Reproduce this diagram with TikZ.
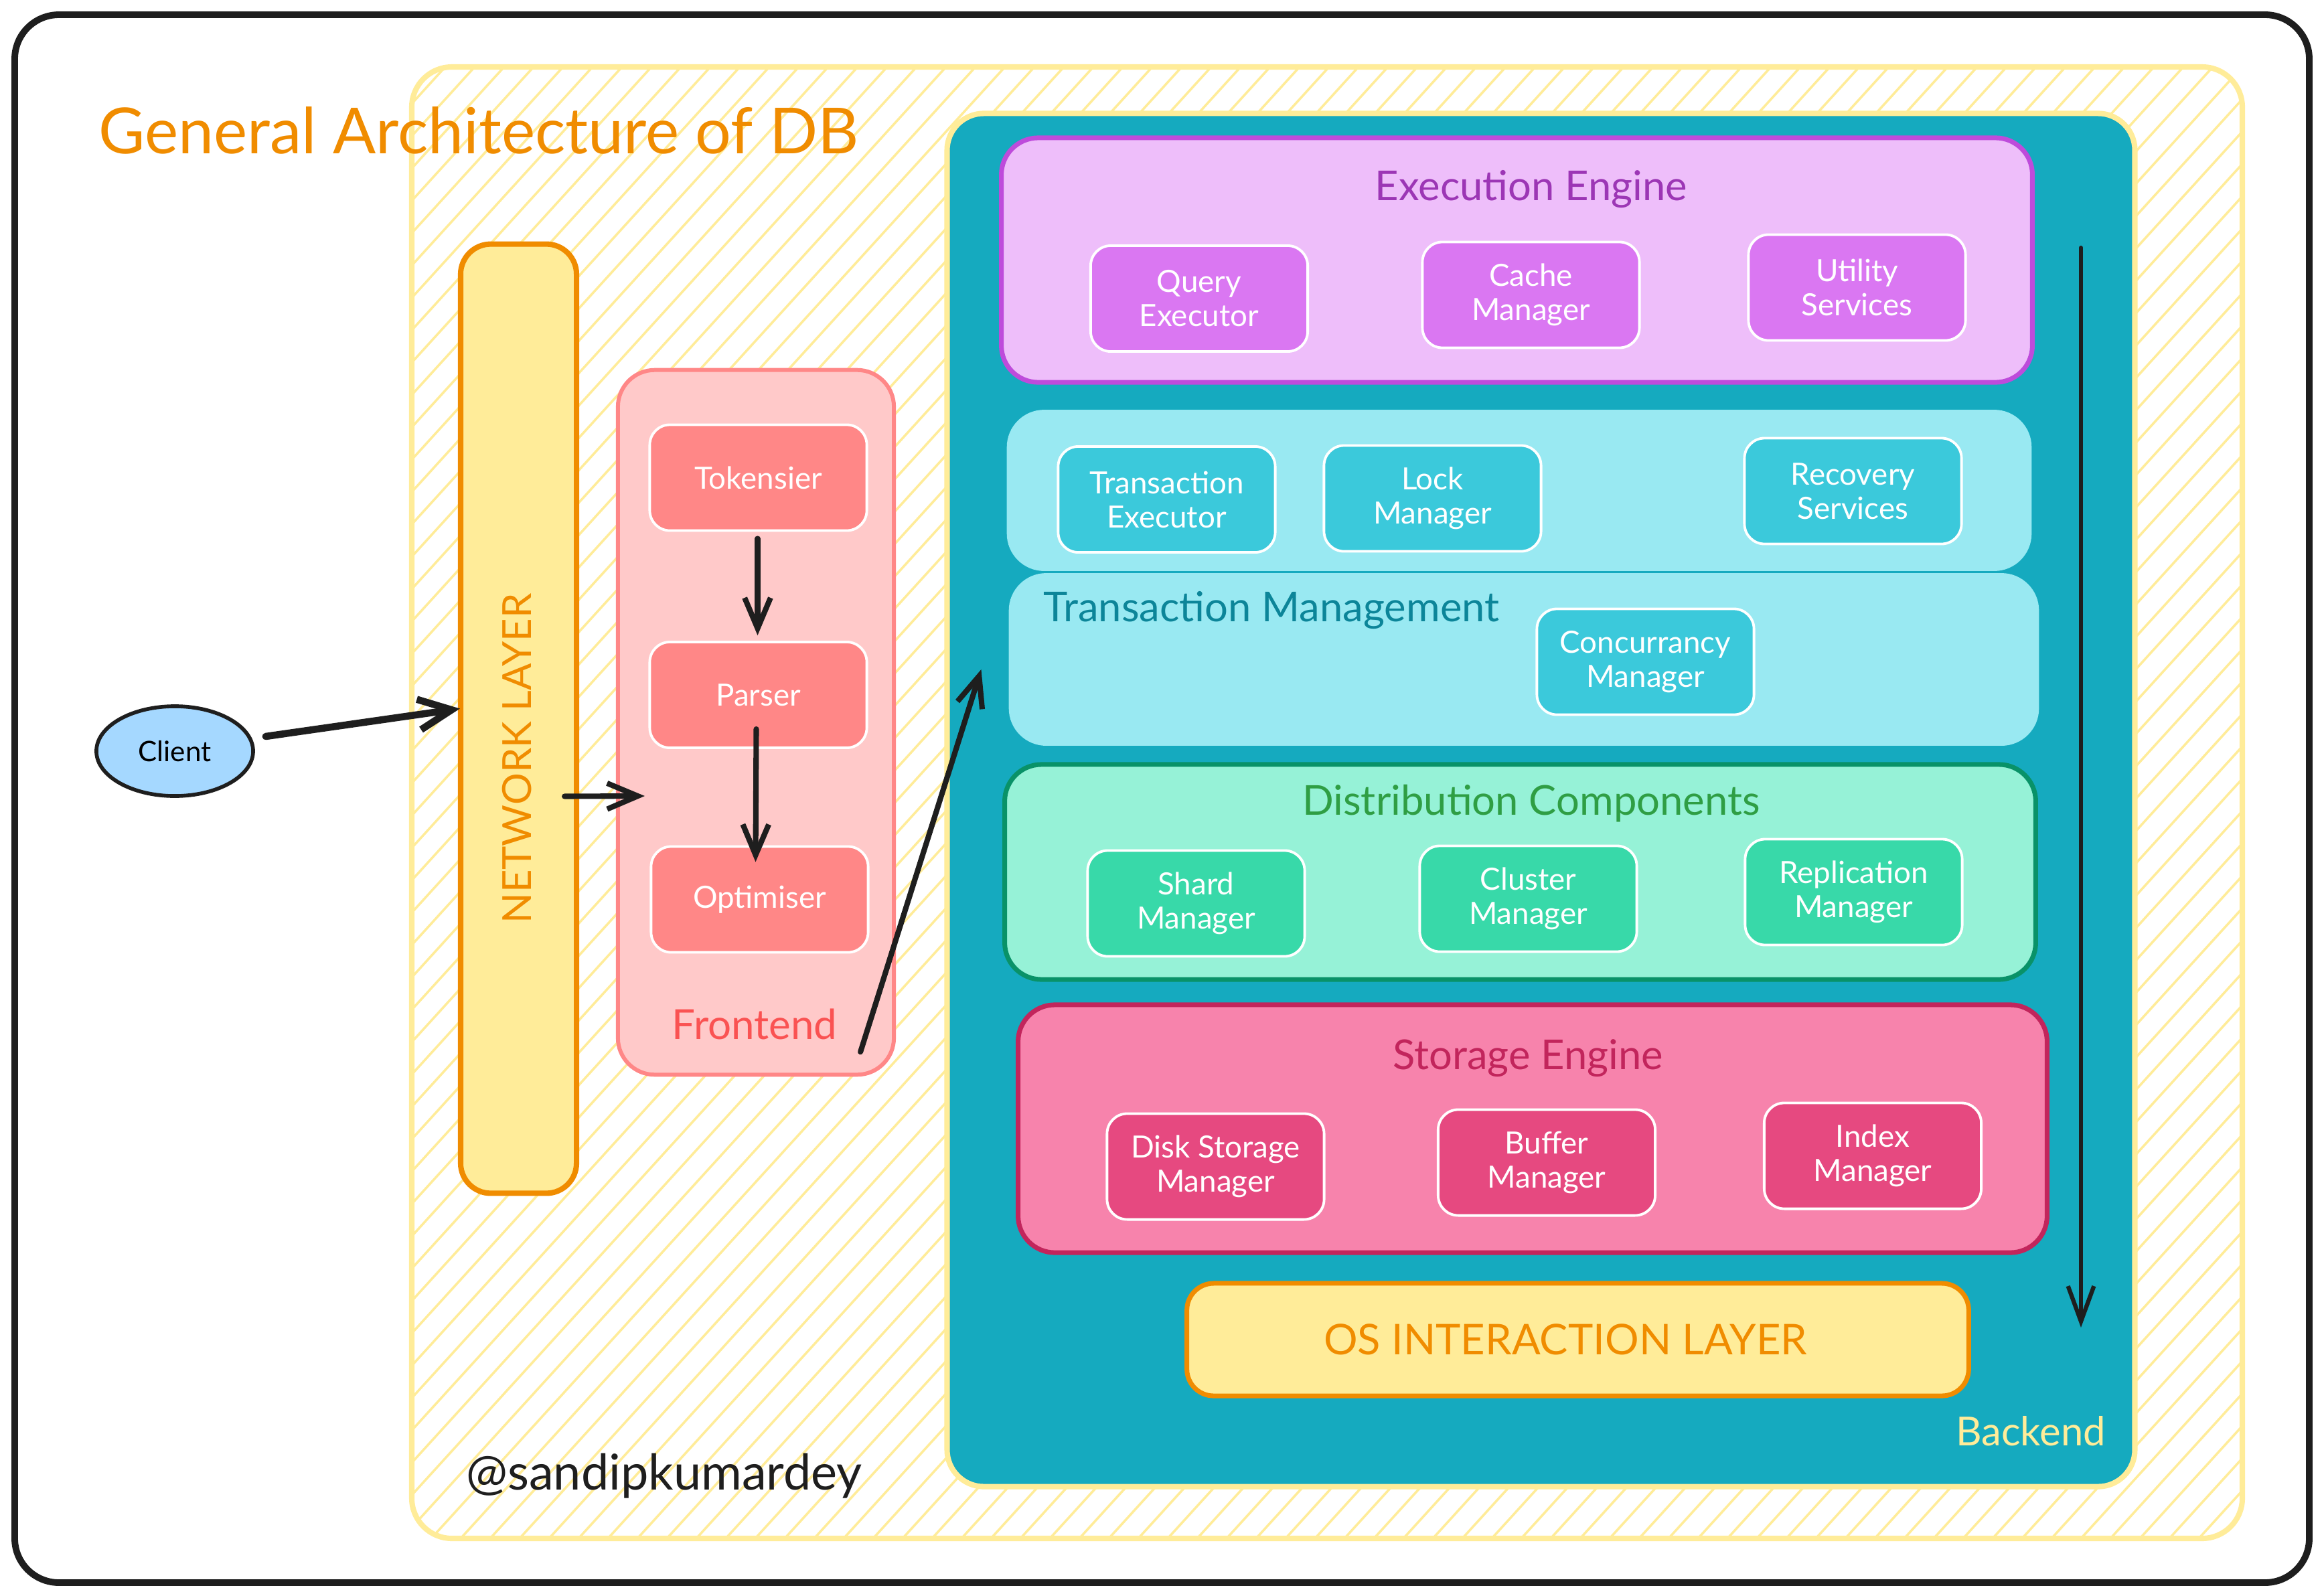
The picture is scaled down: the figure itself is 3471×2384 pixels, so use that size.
\documentclass[tikz,border=0pt]{standalone}
\usepackage{fontspec}
\setmainfont{Lato}
\usetikzlibrary{arrows.meta,calc,shapes.geometric}
\definecolor{ink}{HTML}{1E1E1E}
\definecolor{yel}{HTML}{FFEC99}
\definecolor{orng}{HTML}{F08C00}
\definecolor{bteal}{HTML}{15AABF}
\definecolor{lcyan}{HTML}{99E9F2}
\definecolor{mcyan}{HTML}{3BC9DB}
\definecolor{dcyan}{HTML}{0C8599}
\definecolor{lpurp}{HTML}{EEBEFA}
\definecolor{spurp}{HTML}{BE4BDB}
\definecolor{mpurp}{HTML}{DA77F2}
\definecolor{dpurp}{HTML}{9C36B5}
\definecolor{lgreen}{HTML}{96F2D7}
\definecolor{sgreen}{HTML}{099268}
\definecolor{mgreen}{HTML}{38D9A9}
\definecolor{tgreen}{HTML}{2F9E44}
\definecolor{lpink}{HTML}{F783AC}
\definecolor{spink}{HTML}{C2255C}
\definecolor{mpink}{HTML}{E64980}
\definecolor{lred}{HTML}{FFC9C9}
\definecolor{mred}{HTML}{FF8787}
\definecolor{tred}{HTML}{FA5252}
\definecolor{lblue}{HTML}{A5D8FF}
\begin{document}
\begin{tikzpicture}[x=0.01cm,y=-0.01cm,
  panel/.style={rounded corners=0.55cm, inner sep=0pt, line width=2pt},
  subbox/.style={draw=white, line width=1.1pt, rounded corners=0.3cm,
    minimum width=3.24cm, minimum height=1.58cm, inner sep=0pt,
    text=white, align=center, font=\fontsize{13}{14.5}\selectfont},
  sectitle/.style={font=\fontsize{17.5}{20}\selectfont, inner sep=0pt},
  hatch/.style={yel, line width=1pt},
  flow/.style={ink, line width=2.3pt, line cap=round,
    -{Straight Barb[length=13pt,width=11pt]}},
  bigflow/.style={ink, line width=3pt, line cap=round,
    -{Straight Barb[length=14pt,width=13pt]}}
]
\useasboundingbox (0,0) rectangle (3471,2384);
\fill[white] (0,0) rectangle (3471,2384);
\draw[ink, line width=2.8pt, rounded corners=0.66cm] (22,22) rectangle (3449,2364);

% hatched container
\begin{scope}
  \clip[rounded corners=0.6cm] (615,100) rectangle (3349,2298);
  \foreach \i in {0,...,112} {
    \draw[hatch] ({-1400+\i*44},2320) -- ({-1400+\i*44+2030},90);
  }
\end{scope}
\draw[yel, line width=2.3pt, rounded corners=0.6cm] (615,100) rectangle (3349,2298);

% title
\node[orng, font=\fontsize{27}{31}\selectfont, inner sep=0pt] (title) at (715,195) {General Architecture of DB};

% network layer
\node[panel, draw=orng, fill=yel, line width=2.3pt, rounded corners=0.45cm,
  minimum width=1.73cm, minimum height=14.17cm] (network) at (774.5,1073.5) {};
\node[orng, rotate=90, font=\fontsize{17}{20}\selectfont, inner sep=0pt] (nettext) at (772,1133) {NETWORK LAYER};

% client
\node[ellipse, draw=ink, fill=lblue, line width=1.6pt, minimum width=2.34cm,
  minimum height=1.34cm, inner sep=0pt, font=\fontsize{12}{14}\selectfont] (client) at (261,1122) {Client};

% frontend
\node[panel, draw=mred, fill=lred, line width=1.7pt, rounded corners=0.55cm,
  minimum width=4.12cm, minimum height=10.52cm] (frontend) at (1129,1079) {};
\node[tred, font=\fontsize{17.6}{20}\selectfont, inner sep=0pt] (frontlabel) at (1127,1530) {Frontend};
\node[subbox, fill=mred] (tok) at (1132.5,713.5) {Tokensier};
\node[subbox, fill=mred] (parser) at (1132.5,1038) {Parser};
\node[subbox, fill=mred] (opt) at (1134.5,1343.5) {Optimiser};

% backend
\node[panel, draw=yel, fill=bteal, line width=2.3pt, rounded corners=0.55cm,
  minimum width=17.73cm, minimum height=20.5cm] (backend) at (2301.5,1195) {};
\node[yel, font=\fontsize{17}{20}\selectfont, inner sep=0pt] (backlabel) at (3033,2138) {Backend};

% execution engine
\node[panel, draw=spurp, fill=lpurp, minimum width=15.39cm, minimum height=3.65cm] (exec) at (2265.5,388.5) {};
\node[sectitle, dpurp] (exectitle) at (2287,283) {Execution Engine};
\node[subbox, fill=mpurp] (qe) at (1791,446) {Query\\Executor};
\node[subbox, fill=mpurp] (cm) at (2286.5,440.5) {Cache\\Manager};
\node[subbox, fill=mpurp] (us) at (2773.5,429.5) {Utility\\Services};

% transaction management
\node[panel, draw=lcyan, fill=lcyan, line width=0.5pt, minimum width=15.28cm, minimum height=2.39cm] (txtop) at (2269,732.5) {};
\node[panel, draw=lcyan, fill=lcyan, line width=0.5pt, minimum width=15.36cm, minimum height=2.56cm] (tm) at (2276,985) {};
\node[sectitle, dcyan] (tmtitle) at (1899,912) {Transaction Management};
\node[subbox, fill=mcyan] (te) at (1742.5,746) {Transaction\\Executor};
\node[subbox, fill=mcyan] (lm) at (2139.5,744.5) {Lock\\Manager};
\node[subbox, fill=mcyan] (rs) at (2767.5,733.5) {Recovery\\Services};
\node[subbox, fill=mcyan] (ccm) at (2457.5,988.5) {Concurrancy\\Manager};

% distribution components
\node[panel, draw=sgreen, fill=lgreen, minimum width=15.39cm, minimum height=3.21cm] (dist) at (2270.5,1302.5) {};
\node[sectitle, tgreen] (disttitle) at (2287,1200) {Distribution Components};
\node[subbox, fill=mgreen] (sm) at (1786.5,1349.5) {Shard\\Manager};
\node[subbox, fill=mgreen] (clm) at (2282.5,1342.5) {Cluster\\Manager};
\node[subbox, fill=mgreen] (rm) at (2768.5,1332.5) {Replication\\Manager};

% storage engine
\node[panel, draw=spink, fill=lpink, minimum width=15.36cm, minimum height=3.70cm] (store) at (2289,1686) {};
\node[sectitle, spink] (storetitle) at (2282,1581) {Storage Engine};
\node[subbox, fill=mpink] (dsm) at (1815.5,1742.5) {Disk Storage\\Manager};
\node[subbox, fill=mpink] (bm) at (2310,1736.5) {Buffer\\Manager};
\node[subbox, fill=mpink] (im) at (2797,1726.5) {Index\\Manager};

% OS layer
\node[panel, draw=orng, fill=yel, rounded corners=0.4cm, minimum width=11.67cm, minimum height=1.68cm] (os) at (2356.5,2001) {};
\node[orng, font=\fontsize{18}{21}\selectfont, inner sep=0pt] (ostext) at (2338,2001) {OS INTERACTION LAYER};

% signature
\node[ink, font=\fontsize{21}{25}\selectfont, inner sep=0pt] (sig) at (992,2205) {@sandipkumardey};

% connectors
\coordinate (bkin) at ($(backend.west)+(55,-195)$);
\coordinate (downtop) at (3108,370);
\coordinate (downbot) at (3108,1983);
\draw[bigflow] ($(client.east)+(16,-22)$) -- ($(network.west)+(3,-15)$);
\draw[flow] ($(network.east)+(-22,116)$) -- ($(frontend.west)+(43,110)$);
\draw[flow] ($(tok.south)+(-1,10)$) -- ($(parser.north)+(-1,-8)$);
\draw[flow] ($(parser.south)+(-3,-30)$) -- ($(opt.north)+(-6,25)$);
\draw[flow] ($(frontend.south east)+(-53,-37)$) -- (bkin);
\draw[ink, line width=1.8pt, line cap=round, -{Straight Barb[length=15pt,width=11pt]}] (downtop) -- (downbot);
\end{tikzpicture}
\end{document}
